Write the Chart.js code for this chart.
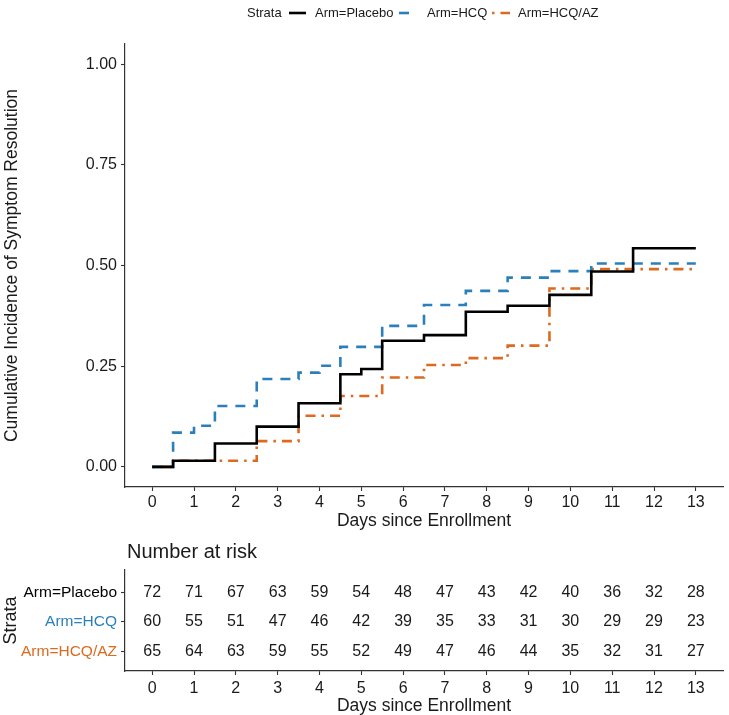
<!DOCTYPE html>
<html><head><meta charset="utf-8">
<script src="https://cdn.jsdelivr.net/npm/chart.js@4.4.0/dist/chart.umd.min.js"></script>
<style>
html,body{margin:0;padding:0;background:#fff;}
#wrap{position:relative;width:729px;height:715px;background:#fff;}
#c1{position:absolute;left:0;top:0;width:729px;height:540px;}
#c2{position:absolute;left:0;top:530px;width:729px;height:185px;}
</style></head><body>
<div id="wrap"><canvas id="c1" width="729" height="540"></canvas><canvas id="c2" width="729" height="185"></canvas></div>
<script>
// ---- data ----
const strata = ['Arm=Placebo', 'Arm=HCQ', 'Arm=HCQ/AZ'];
const placeboDays = [0, 0.5, 1.5, 2.5, 3.5, 4.5, 5, 5.5, 6.5, 7.5, 8.5, 9.5, 10.5, 11.5, 13];
const placeboInc  = [0, 0.015, 0.058, 0.100, 0.158, 0.230, 0.243, 0.313, 0.327, 0.385, 0.400, 0.427, 0.485, 0.543, 0.543];
const hcqDays = [0, 0.5, 1, 1.5, 2.5, 3.5, 4, 4.5, 5.5, 6.5, 7.5, 8.5, 9.5, 10.5, 13];
const hcqInc  = [0, 0.085, 0.102, 0.151, 0.218, 0.234, 0.251, 0.298, 0.350, 0.402, 0.437, 0.470, 0.486, 0.505, 0.505];
const hcqazDays = [0, 0.5, 2.5, 3.5, 4.5, 5.5, 6.5, 7.5, 8.5, 9.5, 10.5, 13];
const hcqazInc  = [0, 0.015, 0.064, 0.127, 0.176, 0.222, 0.253, 0.270, 0.301, 0.443, 0.491, 0.491];
const dayTicks = [0,1,2,3,4,5,6,7,8,9,10,11,12,13];
const yTicks = [0, 0.25, 0.5, 0.75, 1];
const riskPlacebo = [72, 71, 67, 63, 59, 54, 48, 47, 43, 42, 40, 36, 32, 28];
const riskHcq     = [60, 55, 51, 47, 46, 42, 39, 35, 33, 31, 30, 29, 29, 23];
const riskHcqaz   = [65, 64, 63, 59, 55, 52, 49, 47, 46, 44, 35, 32, 31, 27];

// ---- styles ----
const FONT = "'Liberation Sans', Arial, Helvetica, sans-serif";
const TXT = '#1a1a1a';
const AX = '#333333';
const colors = ['#000000', '#2b80b9', '#dc6a1f'];
const dashes = [[], [10, 8], [2.5, 6, 10, 6]];
Chart.defaults.font.family = FONT;
Chart.defaults.color = TXT;

const curves = [[placeboDays, placeboInc], [hcqDays, hcqInc], [hcqazDays, hcqazInc]];
const riskRows = [riskPlacebo, riskHcq, riskHcqaz];

function xScale(height, titlePadBottom, tickPad, titleLH) {
  return {
    type: 'linear', min: -0.65, max: 13.65,
    afterBuildTicks: s => { s.ticks = dayTicks.map(v => ({value: v})); },
    ticks: {font: {size: 16}, color: TXT, padding: tickPad, maxRotation: 0, autoSkip: false, callback: v => String(v)},
    grid: {drawOnChartArea: false, drawTicks: true, tickLength: 4, color: AX, tickColor: AX, tickWidth: 1.1},
    border: {display: true, color: AX, width: 1.2},
    title: {display: true, text: 'Days since Enrollment', font: {size: 17.5, lineHeight: titleLH}, color: TXT, padding: {top: 0, bottom: titlePadBottom}},
    afterFit: s => { s.height = height; }
  };
}

const legendPlugin = {
  id: 'kmLegend',
  afterDraw(chart) {
    const ctx = chart.ctx;
    ctx.save();
    ctx.font = '13px ' + FONT;
    ctx.fillStyle = TXT;
    ctx.textBaseline = 'middle';
    ctx.textAlign = 'left';
    const y = 13;
    ctx.fillText('Strata', 247, y);
    const keys = [[289, 306, 315], [396, 413, 427], [492, 510, 518]];
    const offs = [0, 15, 0];
    keys.forEach((k, i) => {
      ctx.beginPath();
      ctx.strokeStyle = colors[i];
      ctx.lineWidth = 2.6;
      ctx.setLineDash(dashes[i]);
      ctx.lineDashOffset = offs[i];
      ctx.moveTo(k[0], y); ctx.lineTo(k[1], y);
      ctx.stroke();
      ctx.setLineDash([]);
      ctx.fillStyle = TXT;
      ctx.fillText(strata[i], k[2], y);
    });
    ctx.restore();
  }
};

new Chart(document.getElementById('c1'), {
  type: 'line',
  data: {
    datasets: curves.map((c, i) => ({
      label: strata[i],
      data: c[0].map((x, j) => ({x: x, y: c[1][j]})),
      borderColor: colors[i], borderDash: dashes[i], borderWidth: 2.6,
      pointRadius: 0, stepped: 'before', fill: false, tension: 0
    }))
  },
  options: {
    responsive: false, animation: false, devicePixelRatio: 1,
    layout: {padding: {left: 0, right: 6, top: 44, bottom: 0}},
    plugins: {legend: {display: false}, tooltip: {enabled: false}},
    scales: {
      x: xScale(53, 8, 2, 1.2),
      y: {
        type: 'linear', min: -0.05, max: 1.05,
        afterBuildTicks: s => { s.ticks = yTicks.map(v => ({value: v})); },
        ticks: {font: {size: 16}, color: TXT, padding: 4, callback: v => Number(v).toFixed(2)},
        grid: {drawOnChartArea: false, drawTicks: true, tickLength: 4, color: AX, tickColor: AX, tickWidth: 1.1},
        border: {display: true, color: AX, width: 1.2},
        title: {display: true, text: 'Cumulative Incidence of Symptom Resolution', font: {size: 17.5}, color: TXT, padding: {top: 1.5, bottom: 0}},
        afterFit: s => { s.width = 125; }
      }
    }
  },
  plugins: [legendPlugin]
});

const riskPlugin = {
  id: 'riskText',
  afterDatasetsDraw(chart) {
    const ctx = chart.ctx;
    ctx.save();
    ctx.font = '16px ' + FONT;
    ctx.fillStyle = TXT;
    ctx.textAlign = 'center';
    ctx.textBaseline = 'middle';
    chart.data.datasets.forEach((ds, i) => {
      const meta = chart.getDatasetMeta(i);
      meta.data.forEach((pt, j) => {
        ctx.fillText(String(ds.data[j].n), pt.x, pt.y);
      });
    });
    ctx.font = '20px ' + FONT;
    ctx.textAlign = 'left';
    ctx.fillText('Number at risk', chart.chartArea.left + 2, 22);
    ctx.restore();
  }
};

new Chart(document.getElementById('c2'), {
  type: 'scatter',
  data: {
    datasets: riskRows.map((row, i) => ({
      label: strata[i],
      data: dayTicks.map((d, j) => ({x: d, y: i, n: row[j]})),
      pointRadius: 0, showLine: false
    }))
  },
  options: {
    responsive: false, animation: false, devicePixelRatio: 1,
    layout: {padding: {left: 0, right: 6, top: 40, bottom: 0}},
    plugins: {legend: {display: false}, tooltip: {enabled: false}},
    scales: {
      x: xScale(44, 0, 4, 1.05),
      y: {
        type: 'linear', reverse: true, min: -0.75, max: 2.65,
        afterBuildTicks: s => { s.ticks = [0, 1, 2].map(v => ({value: v})); },
        ticks: {font: {size: 15.5}, padding: 4, color: c => colors[c.index], callback: v => strata[v]},
        grid: {drawOnChartArea: false, drawTicks: true, tickLength: 4, color: AX, tickColor: AX, tickWidth: 1.1},
        border: {display: true, color: AX, width: 1.2},
        title: {display: true, text: 'Strata', font: {size: 18}, color: TXT, padding: {top: 0, bottom: 0}},
        afterFit: s => { s.width = 125; }
      }
    }
  },
  plugins: [riskPlugin]
});
</script>
</body></html>
